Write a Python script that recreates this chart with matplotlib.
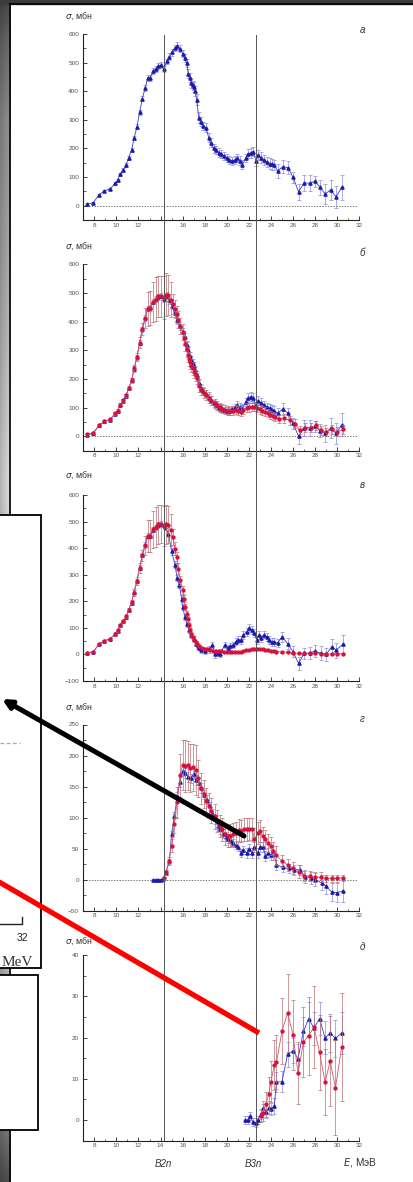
import numpy as np
import matplotlib
matplotlib.use("Agg")
from matplotlib import pyplot as plt
from matplotlib.patches import Rectangle
from matplotlib.ticker import MultipleLocator
import matplotlib.transforms as mtransforms

plt.rcParams['font.family'] = ['Liberation Sans', 'DejaVu Sans']
plt.rcParams['mathtext.fontset'] = 'dejavusans'

# ---------------- data ----------------
# panel a: blue only
a_x = [7.36, 7.9, 8.42, 8.9, 9.4, 9.9, 10.1, 10.35, 10.6, 10.87, 11.1, 11.38, 11.6, 11.86, 12.1,
       12.35, 12.6, 12.83, 13.07, 13.3, 13.56, 13.8, 14.04, 14.3, 14.55, 14.8, 15.04, 15.28, 15.52,
       15.76, 16.0, 16.18, 16.37, 16.5, 16.67, 16.8, 16.9, 17.0, 17.15, 17.27, 17.45, 17.63, 17.87,
       18.1, 18.36, 18.54, 18.8, 19.0, 19.27, 19.5, 19.75, 20.0, 20.23, 20.47, 20.7, 20.95, 21.2,
       21.4, 21.7, 21.9, 22.16, 22.4, 22.65, 22.85, 23.1, 23.4, 23.6, 23.9, 24.1, 24.3, 24.6, 25.07,
       25.55, 26.0, 26.5, 27.0, 27.5, 27.97, 28.45, 28.9, 29.4, 29.9, 30.4]
a_y = [6, 10, 38, 52, 58, 78, 89, 110, 125, 142, 167, 195, 236, 276, 327, 374, 412, 446, 447, 470,
       478, 487, 491, 477, 504, 520, 536, 551, 559, 548, 531, 516, 499, 461, 447, 429, 421, 415, 400,
       371, 308, 294, 279, 273, 238, 220, 200, 194, 185, 180, 174, 166, 159, 157, 159, 166, 157, 143,
       166, 182, 184, 188, 157, 176, 168, 159, 152, 147, 144, 142, 122, 136, 133, 99, 49, 79, 79, 85,
       64, 41, 55, 31, 64]
a_err = [4, 4, 4, 4, 4, 5, 5, 5, 6, 6, 6, 7, 8, 8, 9, 9, 10, 10, 10, 10,
         10, 10, 10, 10, 10, 12, 12, 12, 12, 12, 12, 14, 14, 16, 16, 16, 16, 18, 18, 18,
         18, 16, 15, 15, 15, 15, 15, 15, 15, 14, 14, 14, 14, 14, 14, 14, 15, 15, 15, 16,
         16, 16, 18, 18, 18, 18, 18, 18, 18, 18, 25, 22, 22, 18, 28, 28, 28, 20, 25, 35,
         35, 38, 44]

# panel b: blue (same energies as panel a) and red
b_blue = [6, 10, 38, 52, 58, 78, 89, 110, 125, 142, 167, 195, 236, 276, 327, 374, 412, 446, 447, 470,
          478, 487, 491, 480, 490, 475, 455, 430, 405, 385, 365, 345, 320, 300, 280, 265, 255, 245,
          230, 215, 185, 170, 158, 148, 135, 128, 115, 108, 100, 97, 92, 90, 88, 95, 100, 108, 102,
          98, 120, 135, 138, 135, 105, 125, 118, 110, 103, 98, 93, 90, 80, 95, 80, 45, 0, 30, 30, 35,
          20, 10, 28, 10, 40]
b_blue_err = [4, 4, 4, 4, 4, 5, 5, 5, 6, 6, 6, 7, 8, 8, 9, 9, 10, 10, 10, 10, 10, 10, 10, 12, 12,
              12, 12, 14, 14, 14, 14, 14, 14, 14, 14, 14, 14, 14, 14, 14, 14, 14, 14, 12, 12,
              12, 12, 12, 12, 12, 12, 12, 12, 12, 14, 14, 14, 14, 15, 15, 15, 15, 15, 15, 15,
              15, 15, 15, 15, 15, 18, 22, 20, 20, 25, 28, 28, 20, 22, 30, 35, 35, 40]
b_red_x = [7.36, 7.9, 8.42, 8.9, 9.4, 9.9, 10.1, 10.35, 10.6, 10.87, 11.1, 11.38, 11.6, 11.86, 12.1,
           12.35, 12.6, 12.83, 13.07, 13.3, 13.56, 13.8, 14.04, 14.28, 14.52, 14.7, 14.9, 15.1, 15.3,
           15.45, 15.6, 15.8, 16.0, 16.1, 16.2, 16.37, 16.5, 16.6, 16.7, 16.8, 16.95, 17.05, 17.2,
           17.3, 17.5, 17.7, 17.9, 18.15, 18.4, 18.6, 18.9, 19.1, 19.4, 19.6, 19.85, 20.1, 20.3,
           20.57, 20.8, 21.05, 21.3, 21.5, 21.8, 22.0, 22.26, 22.5, 22.75, 23.0, 23.2, 23.5, 23.7,
           23.95, 24.2, 24.4, 24.7, 25.2, 25.7, 26.2, 26.6, 27.1, 27.6, 28.1, 28.5, 29.0, 29.5, 30.0,
           30.5]
b_red = [7, 12, 39, 53, 59, 81, 90, 111, 126, 143, 168, 195, 237, 277, 327, 375, 413, 445, 448, 469,
         479, 488, 488, 483, 494, 492, 477, 462, 444, 425, 407, 384, 364, 343, 323, 303, 285, 271,
         259, 247, 237, 225, 213, 202, 175, 162, 152, 144, 135, 125, 115, 108, 102, 97, 93, 90, 88,
         90, 93, 90, 86, 93, 100, 101, 102, 103, 100, 94, 90, 86, 81, 75, 71, 67, 60, 63, 56, 44, 22,
         30, 30, 38, 21, 15, 24, 16, 24]
b_red_err = [4, 4, 4, 4, 4, 5, 5, 5, 6, 6, 6, 8, 12, 15, 18, 20, 35, 60, 60, 70, 75, 72, 72, 75, 75,
             70, 60, 35, 32, 30, 30, 28, 28, 26, 26, 25, 25, 24, 24, 22, 22, 22, 20, 20, 20,
             18, 18, 18, 18, 16, 16, 16, 16, 16, 16, 15, 15, 15, 15, 15, 15, 15, 15, 15, 15,
             15, 15, 15, 15, 15, 15, 15, 15, 15, 15, 15, 15, 15, 15, 15, 15, 15, 15, 15, 15,
             15, 15]

# panel v: blue and red
v_blue_x = [7.36, 7.9, 8.42, 8.9, 9.4, 9.9, 10.1, 10.35, 10.6, 10.87, 11.1, 11.38, 11.6, 11.86,
            12.1, 12.35, 12.6, 12.83, 13.07, 13.3, 13.56, 13.8, 14.04, 14.4, 14.7, 15.0, 15.3, 15.5,
            15.7, 15.9, 16.0, 16.2, 16.4, 16.6, 16.8, 17.0, 17.2, 17.4, 17.5, 17.7, 18.0, 18.4, 18.7,
            18.9, 19.2, 19.4, 19.8, 20.1, 20.3, 20.6, 20.8, 21.0, 21.3, 21.5, 21.8, 22.0, 22.3, 22.5,
            22.7, 22.9, 23.1, 23.4, 23.6, 23.85, 24.1, 24.3, 24.6, 25.0, 25.5, 26.0, 26.5, 27.0, 27.5,
            28.0, 28.5, 29.0, 29.5, 29.9, 30.5]
v_blue = [6, 10, 38, 52, 58, 78, 89, 110, 125, 142, 167, 195, 236, 276, 327, 374, 412, 446, 447, 470,
          478, 487, 491, 480, 455, 388, 338, 288, 261, 210, 179, 142, 113, 91, 73, 58, 41, 31, 25, 16,
          12, 19, 35, 1, 5, 3, 35, 25, 30, 35, 48, 56, 54, 73, 85, 98, 91, 79, 54, 73, 60, 75, 66, 54,
          48, 45, 44, 66, 41, 10, -34, 4, 5, 13, 5, 0, 29, 16, 38]
v_blue_err = [4, 4, 4, 4, 4, 5, 5, 5, 6, 6, 6, 7, 8, 8, 9, 9, 10, 10, 10, 10, 10, 10, 10,
              12, 12, 12, 12, 12, 12, 12, 12, 12, 10, 10, 10, 10, 10, 10, 10, 10, 10, 12, 12,
              15, 12, 12, 12, 12, 12, 12, 12, 12, 14, 14, 14, 15, 15, 15, 15, 15, 15, 15, 15,
              15, 15, 15, 15, 20, 20, 20, 25, 20, 22, 22, 25, 25, 30, 28, 35]
v_red_x = [7.36, 7.9, 8.42, 8.9, 9.4, 9.9, 10.1, 10.35, 10.6, 10.87, 11.1, 11.38, 11.6, 11.86, 12.1,
           12.35, 12.6, 12.83, 13.07, 13.3, 13.56, 13.8, 14.04, 14.28, 14.52, 14.7, 14.9, 15.1, 15.3,
           15.45, 15.6, 15.8, 16.0, 16.1, 16.2, 16.37, 16.5, 16.6, 16.7, 16.8, 16.95, 17.05, 17.2,
           17.3, 17.5, 17.75, 18.0, 18.25, 18.5, 18.75, 19.0, 19.25, 19.5, 19.75, 20.0, 20.25, 20.5,
           20.75, 21.0, 21.25, 21.5, 21.75, 22.0, 22.25, 22.5, 22.75, 23.0, 23.25, 23.5, 23.75, 24.0,
           24.25, 24.5, 25.0, 25.5, 26.0, 26.5, 27.0, 27.5, 28.0, 28.5, 29.0, 29.5, 30.0, 30.5]
v_red = [6, 9, 40, 50, 58, 76, 91, 110, 125, 144, 167, 198, 233, 276, 326, 373, 411, 446, 446, 471,
         480, 489, 490, 484, 489, 488, 467, 442, 398, 365, 323, 279, 242, 210, 179, 154, 132, 110, 91,
         76, 64, 54, 45, 38, 31, 26, 21, 19, 16, 14, 13, 12, 12, 11, 11, 11, 10, 10, 10, 11, 12, 15,
         18, 20, 21, 22, 22, 20, 18, 16, 14, 12, 11, 9, 8, 6, 4, 4, 4, 4, 3, 2, 2, 2, 2]
v_red_err = [4, 4, 4, 4, 4, 5, 5, 5, 6, 6, 6, 8, 12, 15, 18, 20, 35, 60, 60, 70, 75, 72, 72, 75, 75,
             70, 60, 30, 25, 22, 20, 18, 15, 14, 12, 10, 9, 8, 7, 6, 5, 5, 4, 4, 3, 3, 3,
             2, 2, 2, 2, 2, 2, 2, 2, 2, 2, 2, 2, 2, 2, 2, 2, 2, 2, 2, 2, 2, 2, 2, 2, 2, 2,
             2, 2, 2, 2, 2, 2, 2, 2, 2, 2, 2, 2]

# panel g
g_blue_x = [13.35, 13.6, 13.8, 14.0, 14.2, 14.47, 14.8, 15.0, 15.26, 15.5, 15.75, 16.0, 16.25, 16.5,
            16.75, 17.0, 17.2, 17.45, 17.7, 17.95, 18.2, 18.45, 18.7, 18.9, 19.2, 19.4, 19.65, 19.9,
            20.1, 20.35, 20.6, 20.8, 21.05, 21.3, 21.5, 21.8, 22.0, 22.3, 22.5, 22.8, 23.0, 23.3,
            23.5, 23.7, 24.0, 24.2, 24.5, 25.1, 25.6, 26.1, 26.6, 27.1, 27.6, 28.0, 28.6, 29.0, 29.5,
            30.0, 30.5]
g_blue = [0, 0, 0, 0, 1, 11, 30, 74, 103, 134, 158, 175, 172, 165, 163, 170, 161, 156, 148, 137, 129,
          118, 107, 97, 86, 81, 74, 69, 66, 62, 59, 56, 53, 43, 48, 43, 49, 43, 53, 43, 53, 52, 38, 43,
          40, 46, 24, 20, 18, 16, 16, 5, 3, 0, -5, -11, -20, -21, -18]
g_blue_err = [1, 1, 1, 1, 2, 3, 4, 5, 6, 7, 8, 8, 8, 8, 8, 8, 8, 8, 8, 7, 7, 7, 7, 7, 7,
              7, 7, 7, 7, 7, 7, 7, 7, 7, 7, 8, 8, 8, 8, 8, 8, 8, 8, 8, 8, 8, 8, 8, 8, 8,
              8, 10, 10, 10, 12, 12, 15, 15, 18]
g_red_x = [14.3, 14.5, 14.75, 15.0, 15.25, 15.5, 15.75, 16.0, 16.2, 16.5, 16.7, 16.95, 17.2, 17.4,
           17.7, 17.9, 18.15, 18.4, 18.6, 18.9, 19.1, 19.4, 19.6, 19.85, 20.1, 20.3, 20.6, 20.8, 21.1,
           21.3, 21.55, 21.8, 22.0, 22.3, 22.5, 22.8, 23.0, 23.25, 23.5, 23.7, 24.0, 24.2, 24.5, 25.0,
           25.5, 26.0, 26.5, 27.0, 27.5, 28.0, 28.5, 29.0, 29.5, 30.0, 30.5]
g_red = [2, 12, 30, 55, 90, 125, 168, 185, 183, 184, 180, 181, 177, 163, 147, 138, 127, 119, 111, 102,
         94, 86, 81, 74, 70, 71, 73, 75, 80, 78, 81, 81, 82, 81, 65, 75, 78, 70, 65, 59, 54, 46, 39,
         30, 24, 19, 13, 6, 6, 4, 4, 2, 2, 2, 3]
g_red_err = [3, 4, 6, 10, 15, 25, 35, 40, 42, 40, 38, 38, 40, 30, 25, 22, 20, 20, 20, 20,
             18, 18, 18, 18, 18, 18, 18, 18, 18, 18, 18, 18, 18, 18, 18, 18, 18, 15, 15, 15,
             15, 15, 15, 10, 10, 10, 10, 8, 8, 8, 8, 6, 6, 6, 5]

# panel d
d_blue_x = [21.65, 21.9, 22.1, 22.35, 22.6, 22.83, 23.07, 23.3, 23.55, 23.8, 24.0, 24.3, 24.5, 25.0,
            25.5, 26.0, 26.45, 26.94, 27.4, 27.9, 28.4, 28.9, 29.36, 29.84, 30.4]
d_blue = [0, 0, 1, -0.5, -0.6, 0, 1.4, 3, 2, 3, 2.7, 3.4, 9.2, 9.3, 15.9, 16.8, 14.9, 21.5, 24.5,
          22.3, 24.6, 19.9, 21.1, 19.8, 21.1]
d_blue_err = [1, 1, 1, 1, 1, 1, 1.2, 1.5, 1.5, 1.5, 1.5, 2, 2.5, 2.5, 3, 3, 3.5, 3.5, 4, 4, 4, 4,
              4.5, 4.5, 5]
d_red_x = [23.07, 23.3, 23.55, 23.8, 24.0, 24.3, 24.5, 25.0, 25.5, 26.0, 26.45, 26.94, 27.4, 27.9,
           28.4, 28.9, 29.36, 29.84, 30.4]
d_red = [1, 1.8, 3.8, 6.4, 9.3, 13.3, 14.0, 21.6, 25.9, 20.7, 11.3, 18.9, 20.4, 22.5, 16.4, 9.2, 14.3,
         7.8, 17.7]
d_red_err = [1.5, 2, 3, 4, 5, 6, 6.5, 8, 9.5, 8.5, 7.5, 8.5, 9.5, 10, 9, 8, 11, 11.5, 13]

B2n = 14.32
B3n = 22.6
xtick_vals = list(range(8, 33, 2))

# ---------------- figure ----------------
W, H = 414, 1182
fig = plt.figure(figsize=(W / 100, H / 100), dpi=100)
fig.patch.set_facecolor('white')

# slide background on the left / top
bg = fig.add_axes([0, 0, 1, 1], zorder=0)
bg.set_xlim(0, W)
bg.set_ylim(H, 0)
bg.axis('off')
rows = np.array([0, 40, 120, 300, 480, 700, 970, 1130, 1182])
shade = np.array([0.28, 0.40, 0.55, 0.68, 0.84, 0.76, 0.70, 0.46, 0.30])
col = np.interp(np.arange(H), rows, shade)[:, None] * np.linspace(0.85, 1.05, 11)[None, :]
img = np.clip(np.dstack([col, col, col]), 0, 1)
bg.imshow(img, extent=(0, 11, H, 0), aspect='auto', interpolation='bilinear', zorder=0)
bg.add_patch(Rectangle((0, 0), W, 3.5, color='#3c3c3c', zorder=1))
bg.plot([10.5, 10.5], [3.5, H], color='black', lw=1.2, zorder=2)
bg.plot([10.5, W], [3.5, 3.5], color='black', lw=1.2, zorder=2)

BLUE_M, BLUE_L, BLUE_E = '#1c1ca8', '#3a3ad0', '#8c8cd8'
RED_M, RED_L, RED_E = '#d8103c', '#e05070', '#b87070'


def series(ax, x, y, e, blue=True):
    if blue:
        ax.errorbar(x, y, yerr=e, fmt='-^', color=BLUE_L, mfc=BLUE_M, mec=BLUE_M, ms=2.3, lw=0.6,
                    ecolor=BLUE_E, elinewidth=0.5, capsize=1.3, capthick=0.5, zorder=3)
    else:
        ax.errorbar(x, y, yerr=e, fmt='-o', color=RED_L, mfc=RED_M, mec=RED_M, ms=2.1, lw=0.6,
                    ecolor=RED_E, elinewidth=0.5, capsize=1.3, capthick=0.5, zorder=4)


def panel(top, bottom, ylim, ymaj, ymin, letter, zero=True, show14=False, sig_dy=18, let_dy=8):
    rect = [83.3 / W, 1 - bottom / H, 276 / W, (bottom - top) / H]
    ax = fig.add_axes(rect, zorder=2)
    ax.set_xlim(7, 32)
    ax.set_ylim(*ylim)
    ax.patch.set_visible(False)
    for s in ('top', 'right'):
        ax.spines[s].set_visible(False)
    for s in ('left', 'bottom'):
        ax.spines[s].set_linewidth(0.8)
        ax.spines[s].set_color('#222')
    ax.set_xticks(xtick_vals)
    ax.set_xticklabels([str(v) if (v != 14 or show14) else '' for v in xtick_vals])
    ax.xaxis.set_minor_locator(MultipleLocator(1))
    ax.yaxis.set_major_locator(MultipleLocator(ymaj))
    ax.yaxis.set_minor_locator(MultipleLocator(ymin))
    ax.tick_params(which='major', direction='in', length=3, width=0.6, color='#222',
                   labelsize=4.6, labelcolor='#555', pad=2)
    ax.tick_params(which='minor', direction='in', length=1.8, width=0.5, color='#222')
    ax.tick_params(axis='y', pad=3)
    if zero:
        ax.axhline(0, xmin=0, xmax=(31.9 - 7) / 25, ls=(0, (2, 2)), lw=0.5, color='#444', zorder=1)
    h = bottom - top
    ax.text(-18 / 276, 1 + sig_dy / h, r'$\sigma$, мбн', transform=ax.transAxes, fontsize=6.3,
            color='#333', ha='left', va='center')
    ax.text(1.01, 1 + let_dy / h, letter, transform=ax.transAxes, fontsize=7, style='italic',
            color='#333', ha='center', va='center')
    return ax


ax_a = panel(34, 220, (-50, 600), 100, 50, 'а', let_dy=4)
series(ax_a, a_x, a_y, a_err)

ax_b = panel(264.3, 450.7, (-50, 600), 100, 50, 'б', let_dy=11)
series(ax_b, a_x, b_blue, b_blue_err)
series(ax_b, b_red_x, b_red, b_red_err, blue=False)

ax_v = panel(495, 681, (-100, 600), 100, 50, 'в', zero=False, sig_dy=20, let_dy=10)
series(ax_v, v_blue_x, v_blue, v_blue_err)
series(ax_v, v_red_x, v_red, v_red_err, blue=False)

ax_g = panel(724.5, 910.7, (-50, 250), 50, 25, 'г', sig_dy=17, let_dy=6)
series(ax_g, g_blue_x, g_blue, g_blue_err)
series(ax_g, g_red_x, g_red, g_red_err, blue=False)

ax_d = panel(955, 1140.7, (-5, 40), 10, 5, 'д', zero=False, show14=True, sig_dy=14, let_dy=8)
series(ax_d, d_blue_x, d_blue, d_blue_err)
series(ax_d, d_red_x, d_red, d_red_err, blue=False)

tr = mtransforms.blended_transform_factory(ax_d.transData, ax_d.transAxes)
ax_d.text(B2n - 0.1, -0.125, 'B2n', transform=tr, fontsize=7, style='italic', color='#333',
          ha='center', va='center')
ax_d.text(B3n - 0.2, -0.125, 'B3n', transform=tr, fontsize=7, style='italic', color='#333',
          ha='center', va='center')
ax_d.text(32.1, -0.12, r'$E$, МэВ', transform=tr, fontsize=7.3, color='#333',
          ha='center', va='center')

# thresholds crossing all panels
vl = fig.add_axes([83.3 / W, 1 - 1141 / H, 276 / W, (1141 - 35) / H], zorder=5)
vl.set_xlim(7, 32)
vl.set_ylim(0, 1)
vl.axis('off')
vl.patch.set_visible(False)
for xv in (B2n, B3n):
    vl.axvline(xv, color='#555', lw=0.7)

# overlay: partially hidden slide boxes and pointers
ov = fig.add_axes([0, 0, 1, 1], zorder=10)
ov.set_xlim(0, W)
ov.set_ylim(H, 0)
ov.axis('off')
ov.patch.set_visible(False)
ov.add_patch(Rectangle((-5, 515), 46, 453, facecolor='white', edgecolor='black', lw=1.3))
ov.add_patch(Rectangle((-5, 975), 43.5, 155, facecolor='white', edgecolor='black', lw=1.3))
ov.plot([0, 20], [743, 743], color='#aaa', lw=0.9, ls=(0, (3, 2)))
ov.plot([0, 22, 22], [924, 924, 917], color='#222', lw=1.0)
ov.text(22, 938, '32', fontsize=7.5, color='#222', ha='center', va='center',
        family=['Liberation Sans'])
ov.text(33, 966, 'MeV', fontsize=11, color='#333', ha='right', va='baseline',
        family=['Liberation Serif'])
ov.annotate('', xy=(2, 699), xytext=(244, 836),
            arrowprops=dict(arrowstyle='-|>', lw=3.6, color='black', mutation_scale=13,
                            shrinkA=0, shrinkB=0))
ov.plot([259, -6], [1033, 879], color='#ff0000', lw=3.8, solid_capstyle='butt')

fig.savefig('out.png', dpi=100)
